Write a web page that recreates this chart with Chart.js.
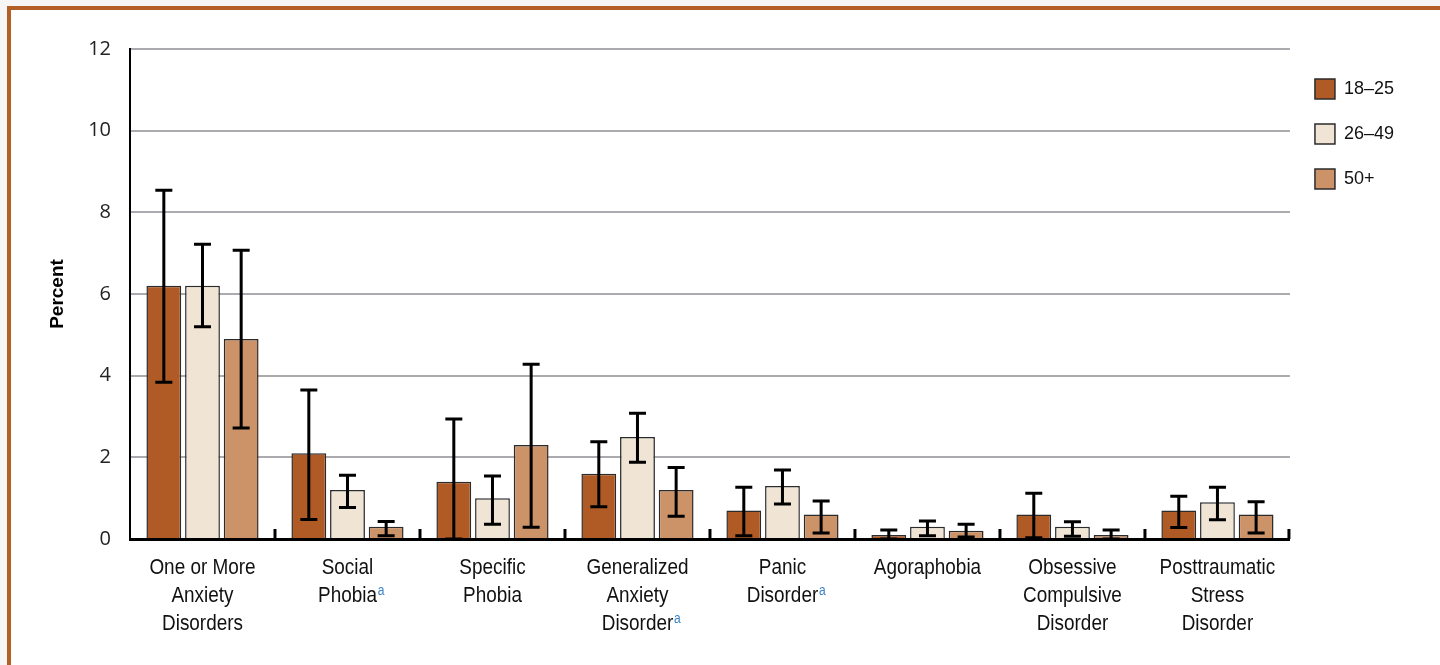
<!DOCTYPE html>
<html>
<head>
<meta charset="utf-8">
<title>Anxiety Disorders by Age Group</title>
<script src="https://cdn.jsdelivr.net/npm/chart.js@4.4.0/dist/chart.umd.min.js"></script>
<style>
  html, body { margin: 0; padding: 0; background: #f6f6f6; }
  body { width: 1440px; height: 665px; position: relative; overflow: hidden; }
  .frame { position: absolute; left: 7px; top: 6px; width: 1500px; height: 800px;
           border: 4px solid #b35f28; background: #fff; }
  #chart { position: absolute; left: 0; top: 0; }
</style>
</head>
<body>
<div class="frame"></div>
<canvas id="chart" width="1440" height="665"></canvas>
<script>
const SANS = "'Liberation Sans', Arial, sans-serif";
const SQUEEZE = 0.86; // horizontal squeeze for the condensed category names

// disorder names, one entry per line of the axis label
const categories = [
  ['One or More', 'Anxiety', 'Disorders'],
  ['Social', 'Phobia'],
  ['Specific', 'Phobia'],
  ['Generalized', 'Anxiety', 'Disorder'],
  ['Panic', 'Disorder'],
  ['Agoraphobia'],
  ['Obsessive', 'Compulsive', 'Disorder'],
  ['Posttraumatic', 'Stress', 'Disorder']
];
// labels that carry the "a" footnote marker
const footnoted = [false, true, false, true, true, false, false, false];

const ageGroups = ['18–25', '26–49', '50+'];
const groupColors = ['#b05b25', '#f0e5d5', '#cc9268'];

const pct18to25  = [6.2, 2.1, 1.4, 1.6, 0.7, 0.1, 0.6, 0.7];
const low18to25  = [3.84, 0.48, 0.0, 0.79, 0.08, 0.0, 0.03, 0.28];
const high18to25 = [8.54, 3.65, 2.94, 2.38, 1.27, 0.22, 1.12, 1.05];

const pct26to49  = [6.2, 1.2, 1.0, 2.5, 1.3, 0.3, 0.3, 0.9];
const low26to49  = [5.2, 0.77, 0.36, 1.88, 0.86, 0.08, 0.07, 0.47];
const high26to49 = [7.22, 1.56, 1.54, 3.08, 1.69, 0.44, 0.42, 1.27];

const pct50plus  = [4.9, 0.3, 2.3, 1.2, 0.6, 0.2, 0.1, 0.6];
const low50plus  = [2.72, 0.08, 0.29, 0.56, 0.15, 0.05, 0.0, 0.15];
const high50plus = [7.07, 0.43, 4.28, 1.75, 0.93, 0.36, 0.22, 0.91];

const yTicks = [0, 2, 4, 6, 8, 10, 12];

// confidence interval whiskers on top of each bar
const errorBars = {
  id: 'errorBars',
  afterDatasetsDraw(chart) {
    const ctx = chart.ctx;
    const y = chart.scales.y;
    ctx.save();
    ctx.strokeStyle = '#000';
    ctx.lineWidth = 3;
    chart.data.datasets.forEach((ds, di) => {
      chart.getDatasetMeta(di).data.forEach((bar, i) => {
        const top = y.getPixelForValue(ds.errHigh[i]);
        const bot = y.getPixelForValue(ds.errLow[i]);
        const half = 8.5;
        ctx.beginPath();
        ctx.moveTo(bar.x, top);
        ctx.lineTo(bar.x, bot);
        ctx.moveTo(bar.x - half, top);
        ctx.lineTo(bar.x + half, top);
        ctx.moveTo(bar.x - half, bot);
        ctx.lineTo(bar.x + half, bot);
        ctx.stroke();
      });
    });
    ctx.restore();
  }
};

// upward tick marks between categories and the multi-line category names
const categoryAxis = {
  id: 'categoryAxis',
  afterDraw(chart) {
    const ctx = chart.ctx;
    const x = chart.scales.x;
    const area = chart.chartArea;
    ctx.save();
    ctx.strokeStyle = '#000';
    ctx.lineWidth = 3;
    for (let i = 0; i < categories.length; i++) {
      const edge = i < categories.length - 1
        ? (x.getPixelForValue(i) + x.getPixelForValue(i + 1)) / 2
        : area.right - 1;
      ctx.beginPath();
      ctx.moveTo(edge, area.bottom);
      ctx.lineTo(edge, area.bottom - 10);
      ctx.stroke();
    }

    ctx.textBaseline = 'middle';
    categories.forEach((lines, i) => {
      const cx = x.getPixelForValue(i);
      lines.forEach((line, li) => {
        const ly = area.bottom + 29 + li * 28;
        ctx.save();
        ctx.translate(cx, ly);
        ctx.scale(SQUEEZE, 1);
        ctx.font = '22px ' + SANS;
        ctx.fillStyle = '#111';
        ctx.textAlign = 'center';
        ctx.fillText(line, 0, 0);
        if (footnoted[i] && li === lines.length - 1) {
          const w = ctx.measureText(line).width;
          ctx.font = '14px ' + SANS;
          ctx.fillStyle = '#3b82c4';
          ctx.textAlign = 'left';
          ctx.fillText('a', w / 2 + 1, -5);
        }
        ctx.restore();
      });
    });
    ctx.restore();
  }
};

const makeSet = (i, values, low, high) => ({
  label: ageGroups[i],
  data: values,
  errLow: low,
  errHigh: high,
  backgroundColor: groupColors[i],
  borderColor: '#2b2b2b',
  borderWidth: 1.5
});

new Chart(document.getElementById('chart'), {
  type: 'bar',
  data: {
    labels: categories.map(l => l.join(' ')),
    datasets: [
      makeSet(0, pct18to25, low18to25, high18to25),
      makeSet(1, pct26to49, low26to49, high26to49),
      makeSet(2, pct50plus, low50plus, high50plus)
    ]
  },
  options: {
    responsive: false,
    animation: false,
    devicePixelRatio: 1,
    layout: { padding: { top: 49, left: 0, right: 36, bottom: 0 } },
    plugins: {
      tooltip: { enabled: false },
      legend: {
        position: 'right',
        align: 'start',
        title: { display: true, text: ' ', font: { size: 2 }, padding: { top: 0, bottom: 2.6 } },
        labels: {
          boxWidth: 20,
          boxHeight: 20,
          padding: 25,
          color: '#111',
          font: { family: SANS, size: 18 }
        }
      }
    },
    scales: {
      x: {
        offset: true,
        grid: { display: false },
        border: { display: true, color: '#000', width: 3 },
        ticks: { display: false },
        afterFit(scale) { scale.height = 126; }
      },
      y: {
        min: 0,
        max: 12,
        afterBuildTicks(scale) { scale.ticks = yTicks.map(v => ({ value: v })); },
        grid: { color: '#ababaf', lineWidth: 2, drawTicks: false },
        border: { display: true, color: '#000', width: 2 },
        ticks: {
          padding: 19,
          color: '#222',
          font: { family: "'Open Sans', sans-serif", size: 20 }
        },
        title: {
          display: true,
          text: 'Percent',
          color: '#000',
          padding: { top: 46 },
          font: { family: SANS, size: 19, weight: 'bold' }
        },
        afterFit(scale) { scale.width = 130; }
      }
    }
  },
  plugins: [errorBars, categoryAxis]
});
</script>
</body>
</html>
